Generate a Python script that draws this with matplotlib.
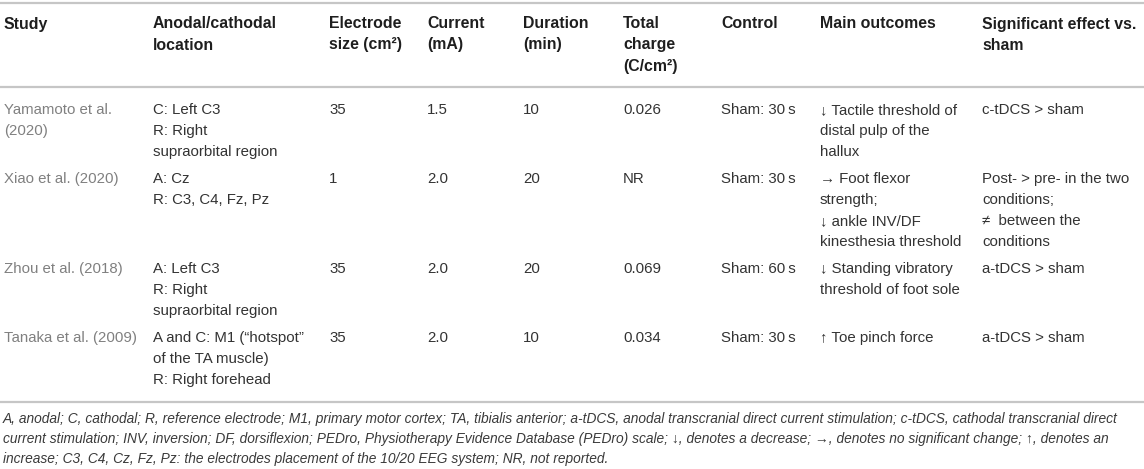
import matplotlib.pyplot as plt

plt.rcParams['font.family'] = ['Liberation Sans', 'DejaVu Sans']

# table content, one entry per study (cells already wrapped as in the source)
headers = ["Study", "Anodal/cathodal\nlocation", "Electrode\nsize (cm²)", "Current\n(mA)",
           "Duration\n(min)", "Total\ncharge\n(C/cm²)", "Control", "Main outcomes",
           "Significant effect vs.\nsham"]
studies = ["Yamamoto et al.\n(2020)", "Xiao et al. (2020)", "Zhou et al. (2018)",
           "Tanaka et al. (2009)"]
locations = ["C: Left C3\nR: Right\nsupraorbital region",
             "A: Cz\nR: C3, C4, Fz, Pz",
             "A: Left C3\nR: Right\nsupraorbital region",
             "A and C: M1 (\u201chotspot\u201d\nof the TA muscle)\nR: Right forehead"]
sizes = ["35", "1", "35", "35"]
currents = ["1.5", "2.0", "2.0", "2.0"]
durations = ["10", "20", "20", "10"]
charges = ["0.026", "NR", "0.069", "0.034"]
controls = ["Sham: 30\u2009s", "Sham: 30\u2009s", "Sham: 60\u2009s", "Sham: 30\u2009s"]
outcomes = ["\u2193 Tactile threshold of\ndistal pulp of the\nhallux",
            "\u2192 Foot flexor\nstrength;\n\u2193 ankle INV/DF\nkinesthesia threshold",
            "\u2193 Standing vibratory\nthreshold of foot sole",
            "\u2191 Toe pinch force"]
effects = ["c-tDCS > sham",
           "Post- > pre- in the two\nconditions;\n\u2260  between the\nconditions",
           "a-tDCS > sham", "a-tDCS > sham"]
footnote = ["A, anodal; C, cathodal; R, reference electrode; M1, primary motor cortex; TA, tibialis anterior; "
            "a-tDCS, anodal transcranial direct current stimulation; c-tDCS, cathodal transcranial direct",
            "current stimulation; INV, inversion; DF, dorsiflexion; PEDro, Physiotherapy Evidence Database (PEDro) "
            "scale; \u2193, denotes a decrease; \u2192, denotes no significant change; \u2191, denotes an",
            "increase; C3, C4, Cz, Fz, Pz: the electrodes placement of the 10/20 EEG system; NR, not reported."]

col_x = [4, 153, 329, 427, 523, 623, 721, 820, 982]
W, H = 1144, 469
line_h = 21
fs = 10.8

fig = plt.figure(figsize=(W / 100, H / 100), dpi=100)
ax = fig.add_axes([0, 0, 1, 1])
ax.set_xlim(0, W)
ax.set_ylim(H, 0)
ax.axis('off')


def cell(x, y, text, size=fs, **kw):
    lines = text.split("\n")
    for i, s in enumerate(lines):
        ax.text(x, y + i * line_h, s, va='center', ha='left', fontsize=size, **kw)
    return len(lines)


rule = dict(color='#c6c6c6', linewidth=1.6)
ax.hlines(3, 0, W, **rule)
for x, h in zip(col_x, headers):
    cell(x, 24, h, size=11.4, fontweight='bold', color='#1e1e1e')
ax.hlines(87, 0, W, **rule)

y = 110
columns = [studies, locations, sizes, currents, durations, charges, controls, outcomes, effects]
for r in range(len(studies)):
    n = 0
    for c, (x, col) in enumerate(zip(col_x, columns)):
        color = '#808080' if c == 0 else '#333333'
        n = max(n, cell(x, y, col[r], color=color))
    y += n * line_h + 6

ax.hlines(402, 0, W, **rule)
for i, s in enumerate(footnote):
    ax.text(3, 419 + i * 20, s, va='center', ha='left', fontsize=9.95,
            style='italic', color='#3a3a3a')

fig.savefig("out.png", dpi=100)
